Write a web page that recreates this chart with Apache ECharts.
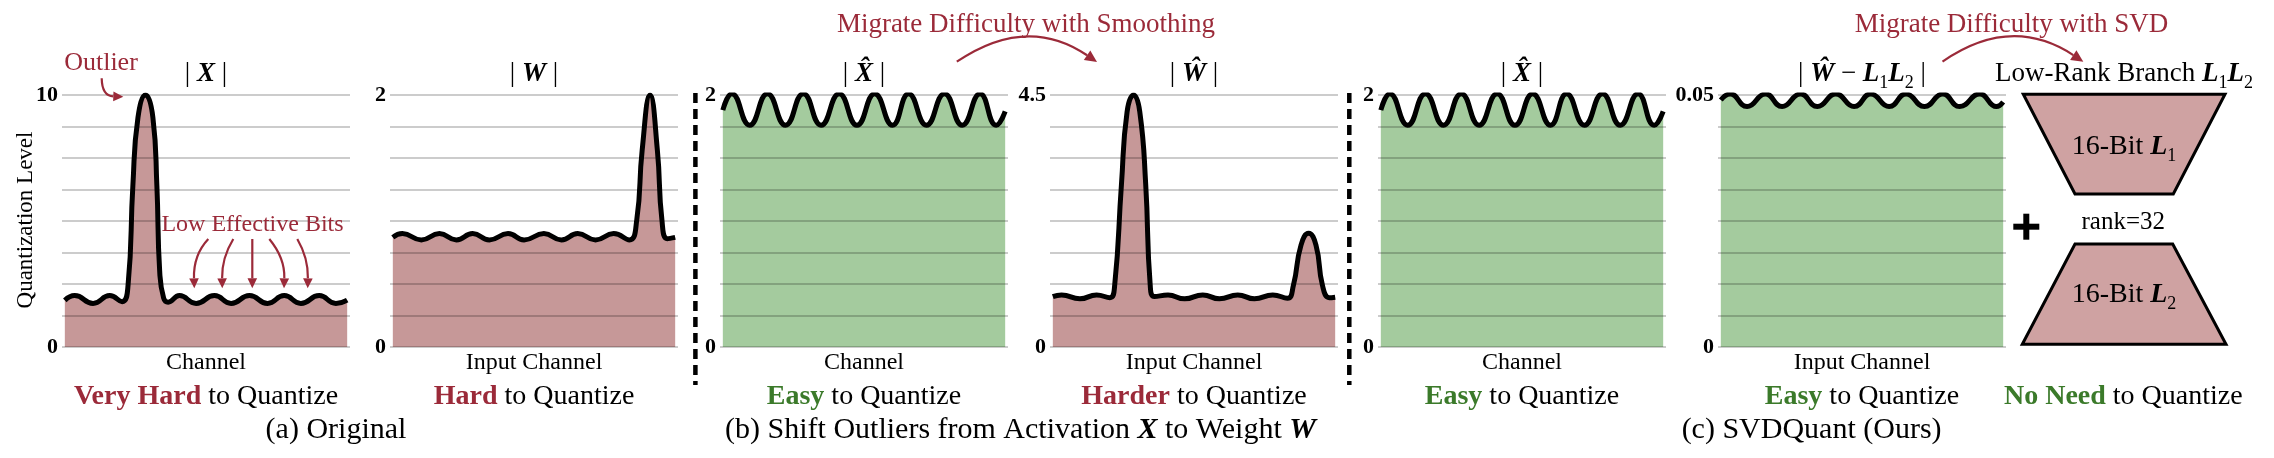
<!DOCTYPE html>
<html>
<head>
<meta charset="utf-8">
<script src="https://cdn.jsdelivr.net/npm/echarts@6/dist/echarts.min.js"></script>
<style>
  html, body { margin: 0; padding: 0; background: #fff; }
  #main { width: 2274px; height: 458px; }
</style>
</head>
<body>
<div id="main"></div>
<script>
const FONT = "'Liberation Serif', 'Times New Roman', serif"
const RED = '#9b2a39'
const GREEN = '#3b7a2a'
const RED_FILL = '#c69898'
const GREEN_FILL = '#a4cb9e'

// [channel position 0-100, magnitude]
const xAbs = [
  [0, 1.85], [3.5, 2.04], [10.0, 1.73], [15.9, 2.04], [20.3, 1.80], [22.4, 2.46],
  [24.1, 6.4], [25.9, 9.1], [28.6, 10.0], [31.2, 9.1], [32.6, 6.4], [33.6, 3.0],
  [35.0, 1.94], [36.6, 1.78], [40.6, 2.04], [46.5, 1.73], [53.0, 2.04], [58.9, 1.73],
  [65.4, 2.04], [71.8, 1.73], [77.7, 2.04], [83.6, 1.73], [90.1, 2.04], [96.0, 1.73], [100, 1.86]
]
const wAbs = [
  [0, 0.87], [3.4, 0.90], [10.1, 0.85], [16.5, 0.90], [22.5, 0.85], [28.3, 0.90],
  [34.2, 0.85], [40.8, 0.90], [46.5, 0.85], [53.5, 0.90], [59.7, 0.85], [65.5, 0.90],
  [71.8, 0.85], [78.2, 0.90], [83.8, 0.85], [86.4, 1.01], [88.3, 1.56], [91.1, 2.0],
  [93.7, 1.56], [95.3, 1.01], [97.2, 0.86], [100, 0.87]
]
const xHat = [
  [0, 1.88], [3.2, 2.01], [9.5, 1.76], [15.8, 2.01], [22.2, 1.76], [28.5, 2.01],
  [34.8, 1.76], [41.2, 2.01], [47.5, 1.76], [53.8, 2.01], [60.1, 1.76], [65.8, 2.01],
  [72.1, 1.76], [78.5, 2.01], [84.8, 1.76], [91.1, 2.01], [96.8, 1.76], [100, 1.87]
]
const wHat = [
  [0, 0.90], [3.1, 0.93], [9.6, 0.86], [15.5, 0.93], [20.2, 0.88], [21.9, 1.1],
  [24.3, 2.9], [26.3, 4.2], [28.6, 4.5], [30.8, 4.2], [32.9, 2.9], [34.5, 1.1],
  [36.0, 0.90], [40.8, 0.93], [46.7, 0.86], [53.1, 0.93], [59.0, 0.86], [65.5, 0.93],
  [71.4, 0.86], [77.9, 0.93], [83.1, 0.87], [85.2, 1.1], [87.9, 1.82], [90.6, 2.03],
  [93.2, 1.82], [95.5, 1.1], [97.9, 0.88], [100, 0.89]
]
const residual = [
  [0, 0.0490], [3.3, 0.0502], [9.3, 0.0477], [15.8, 0.0502], [21.7, 0.0477], [28.2, 0.0502],
  [34.2, 0.0477], [40.7, 0.0502], [47.2, 0.0477], [53.1, 0.0502], [59.6, 0.0477], [65.6, 0.0502],
  [72.1, 0.0477], [78.6, 0.0502], [84.6, 0.0477], [91.7, 0.0502], [97.6, 0.0477], [100, 0.0486]
]
const yMax = [10, 2, 2, 4.5, 2, 0.05]
const yTopLabels = ['10', '2', '2', '4.5', '2', '0.05']
const titles = ['| {bi|X} |', '| {bi|W} |', '| {bi|X\u0302} |', '| {bi|Ŵ} |', '| {bi|X\u0302} |',
  '| {bi|Ŵ} − {bi|L}{sub|1}{bi|L}{sub|2} |']
const axisNames = ['Channel', 'Input Channel', 'Channel', 'Input Channel', 'Channel', 'Input Channel']
const verdicts = ['{r|Very Hard} to Quantize', '{r|Hard} to Quantize', '{g|Easy} to Quantize',
  '{r|Harder} to Quantize', '{g|Easy} to Quantize', '{g|Easy} to Quantize']

const curves = [xAbs, wAbs, xHat, wHat, xHat, residual]
const fills = [RED_FILL, RED_FILL, GREEN_FILL, RED_FILL, GREEN_FILL, GREEN_FILL]
const gridLeft = [62, 390, 720, 1050, 1378, 1718]
const GRID_W = 288

function richFor(size) {
  const s = Math.round(size * 0.65)
  return {
    bi: { fontFamily: FONT, fontSize: size, fontWeight: 'bold', fontStyle: 'italic', fill: '#000' },
    sub: { fontFamily: FONT, fontSize: s, fill: '#000', padding: [s, 0, 0, 0] },
    r: { fontFamily: FONT, fontSize: size, fontWeight: 'bold', fill: RED },
    g: { fontFamily: FONT, fontSize: size, fontWeight: 'bold', fill: GREEN }
  }
}

function txt(x, y, text, size, opt = {}) {
  return {
    type: 'text', x, y, z: 100, rotation: opt.rotation || 0,
    style: {
      text, fontFamily: FONT, fontSize: size, fontWeight: 'normal',
      fill: opt.color || '#000',
      align: 'center', verticalAlign: 'middle', textAlign: 'center', textVerticalAlign: 'middle',
      rich: richFor(size)
    }
  }
}

function arrow(x0, y0, cx, cy, x1, y1, head) {
  const dx = x1 - cx, dy = y1 - cy, len = Math.hypot(dx, dy)
  const ux = dx / len, uy = dy / len
  const bx = x1 - ux * head, by = y1 - uy * head
  const hw = head * 0.48
  return [
    { type: 'bezierCurve', z: 100, shape: { x1: x0, y1: y0, cpx1: cx, cpy1: cy, x2: bx, y2: by },
      style: { stroke: RED, lineWidth: 2.2, fill: null } },
    { type: 'polygon', z: 100, shape: { points: [[x1, y1], [bx - uy * hw, by + ux * hw], [bx + uy * hw, by - ux * hw]] },
      style: { fill: RED } }
  ]
}

const grids = [], xAxes = [], yAxes = [], series = []
curves.forEach((data, i) => {
  grids.push({ left: gridLeft[i], top: 95, width: GRID_W, height: 252, outerBoundsMode: 'none' })
  xAxes.push({ type: 'value', gridIndex: i, min: -1, max: 101, show: false })
  yAxes.push({
    type: 'value', gridIndex: i, min: 0, max: yMax[i], interval: yMax[i] / 8, z: 5,
    axisLine: { show: false }, axisTick: { show: false },
    axisLabel: {
      margin: 4, color: '#000', fontFamily: FONT, fontWeight: 'bold', fontSize: 22,
      formatter: v => (v === 0 ? '0' : Math.abs(v - yMax[i]) < yMax[i] * 1e-6 ? yTopLabels[i] : '')
    },
    splitLine: { lineStyle: { color: 'rgba(0,0,0,0.2)', width: 2 } }
  })
  series.push({
    type: 'line', xAxisIndex: i, yAxisIndex: i, data, smooth: 0.5, showSymbol: false,
    lineStyle: { color: '#000', width: 5 }, areaStyle: { color: fills[i], opacity: 1 },
    silent: true
  })
})

const centers = gridLeft.map(l => l + GRID_W / 2)
const graphic = []
centers.forEach((c, i) => {
  graphic.push(txt(c, 74, titles[i], 27))
  graphic.push(txt(c, 363, axisNames[i], 24))
  graphic.push(txt(c, 397, verdicts[i], 28))
})

graphic.push(
  txt(26, 220, 'Quantization Level', 23, { rotation: Math.PI / 2 }),
  txt(101, 63, 'Outlier', 26, { color: RED }),
  txt(252.5, 225, 'Low Effective Bits', 24, { color: RED }),
  txt(1026, 25, 'Migrate Difficulty with Smoothing', 27, { color: RED }),
  txt(2011.5, 25, 'Migrate Difficulty with SVD', 27, { color: RED }),
  txt(2124, 74, 'Low-Rank Branch {bi|L}{sub|1}{bi|L}{sub|2}', 27),
  txt(336, 430, '(a) Original', 30),
  txt(1020.5, 430, '(b) Shift Outliers from Activation {bi|X} to Weight {bi|W}', 30),
  txt(1811.6, 430, '(c) SVDQuant (Ours)', 30),
  txt(2123.3, 397, '{g|No Need} to Quantize', 28)
)

// dashed separators between panels
;[695.4, 1349.3].forEach(x => graphic.push({
  type: 'line', z: 100, shape: { x1: x, y1: 93, x2: x, y2: 385 },
  style: { stroke: '#000', lineWidth: 4.5, lineDash: [10, 6] }
}))

// low-rank branch trapezoids
graphic.push(
  { type: 'polygon', z: 90, shape: { points: [[2023.3, 94.3], [2225, 94.3], [2173.3, 194], [2075, 194]] },
    style: { fill: '#cfa2a2', stroke: '#000', lineWidth: 3, lineJoin: 'miter' } },
  { type: 'polygon', z: 90, shape: { points: [[2075, 244], [2172.7, 244], [2226, 344.3], [2022.3, 344.3]] },
    style: { fill: '#cfa2a2', stroke: '#000', lineWidth: 3, lineJoin: 'miter' } },
  txt(2124, 147, '16-Bit {bi|L}{sub|1}', 28),
  txt(2124, 295, '16-Bit {bi|L}{sub|2}', 28),
  txt(2123.3, 222.7, 'rank=32', 25),
  { type: 'rect', z: 100, shape: { x: 2013.3, y: 223.7, width: 26, height: 6 }, style: { fill: '#000' } },
  { type: 'rect', z: 100, shape: { x: 2023.3, y: 213.7, width: 6, height: 26 }, style: { fill: '#000' } }
)

// annotation arrows
graphic.push(
  ...arrow(101.7, 78.3, 102, 96, 123.3, 96.7, 10),
  ...arrow(208.3, 239, 193.3, 255, 194.3, 288.3, 10),
  ...arrow(233.3, 239, 221.7, 258, 222.3, 288.3, 10),
  ...arrow(252.3, 239, 252.3, 262, 252.3, 288.3, 10),
  ...arrow(269.3, 239, 285, 258, 284, 288.3, 10),
  ...arrow(297.3, 239, 308.3, 258, 307.7, 288.3, 10),
  ...arrow(956.8, 61.7, 1026.8, 14.3, 1097, 62, 12),
  ...arrow(1942.5, 61.7, 2011, 14.3, 2083.3, 61.7, 12)
)

const myChart = echarts.init(document.getElementById('main'))
myChart.setOption({
  animation: false,
  backgroundColor: '#fff',
  grid: grids,
  xAxis: xAxes,
  yAxis: yAxes,
  series,
  graphic
})
</script>
</body>
</html>
